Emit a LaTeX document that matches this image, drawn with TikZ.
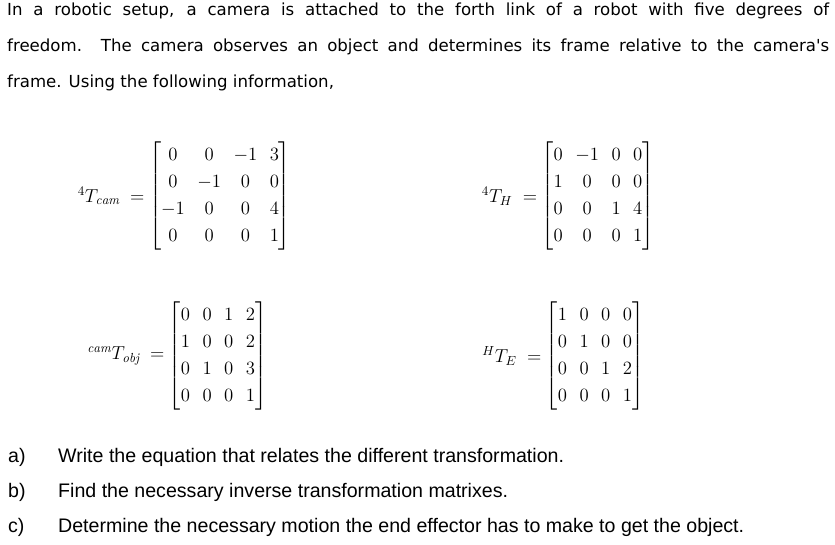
\documentclass[tikz,border=0pt]{standalone}
\usepackage{fix-cm}
\usepackage{amsmath}
\usepackage{fontspec}
\newfontfamily\verd{DejaVu Sans}
\newfontfamily\ari{Liberation Sans}
\tikzset{para/.style={anchor=north west,inner sep=0pt,text width=822pt,align=justify,font=\verd\fontsize{16.6}{36}\selectfont},
 mat/.style={inner sep=0pt,scale=1.25,transform shape,font=\fontsize{15}{18}\selectfont},
 lbl/.style={inner sep=0pt,anchor=east,scale=1.25,transform shape,font=\fontsize{15}{18}\selectfont},
 item/.style={inner sep=0pt,anchor=west,font=\ari\fontsize{19.6}{22}\selectfont}}
\begin{document}
\begin{tikzpicture}[x=1pt,y=-1pt]
\useasboundingbox (0,0) rectangle (835,544);
\fill[white] (0,0) rectangle (835,544);
\node[para] (intro) at (7,3) {In a robotic setup, a camera is attached to the forth link of a robot with five degrees of\linebreak freedom. The camera observes an object and determines its frame relative to the camera's\linebreak frame. Using the following information,};
\renewcommand{\arraystretch}{1.2}
\node[mat] (m1) at (220,196) {$\begin{bmatrix}0&0&-1&3\\0&-1&0&0\\-1&0&0&4\\0&0&0&1\end{bmatrix}$};
\node[lbl] (l1) at ([xshift=-4pt]m1.west) {$^{4}T_{\mathit{cam}}\;=$};
\node[mat] (m2) at (598,196) {$\begin{bmatrix}0&-1&0&0\\1&0&0&0\\0&0&1&4\\0&0&0&1\end{bmatrix}$};
\node[lbl] (l2) at ([xshift=-4pt]m2.west) {$^{4}T_{H}\;=$};
\node[mat] (m3) at (218,356) {$\begin{bmatrix}0&0&1&2\\1&0&0&2\\0&1&0&3\\0&0&0&1\end{bmatrix}$};
\node[lbl] (l3) at ([xshift=-4pt]m3.west) {$^{\mathit{cam}}T_{\mathit{obj}}\;=$};
\node[mat] (m4) at (595,356) {$\begin{bmatrix}1&0&0&0\\0&1&0&0\\0&0&1&2\\0&0&0&1\end{bmatrix}$};
\node[lbl] (l4) at ([xshift=-4pt]m4.west) {$^{H}T_{E}\;=$};
\node[item] (a) at (8,457) {a)};
\node[item] (at) at (58,457) {Write the equation that relates the different transformation.};
\node[item] (b) at (8,492) {b)};
\node[item] (bt) at (58,492) {Find the necessary inverse transformation matrixes.};
\node[item] (c) at (8,527) {c)};
\node[item] (ct) at (58,527) {Determine the necessary motion the end effector has to make to get the object.};
\end{tikzpicture}
\end{document}
